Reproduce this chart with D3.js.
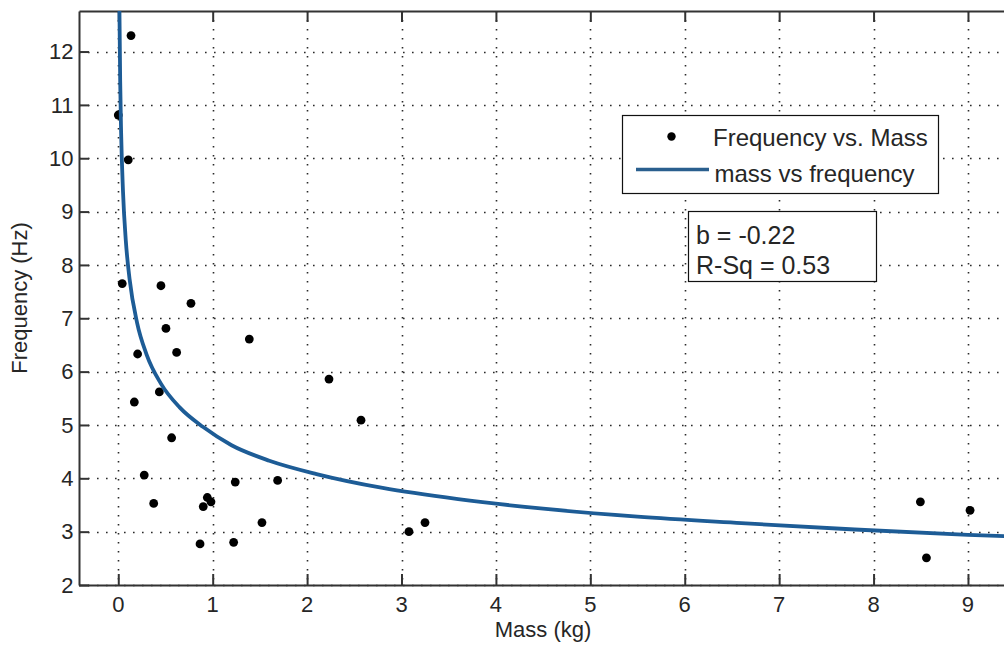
<!DOCTYPE html>
<html>
<head>
<meta charset="utf-8">
<script src="https://cdn.jsdelivr.net/npm/d3@7/dist/d3.min.js"></script>
<style>
  html, body { margin: 0; padding: 0; background: #fff; }
  svg { display: block; }
  text { font-family: "Liberation Sans", Arial, sans-serif; fill: #262626; }
</style>
</head>
<body>
<svg id="chart" width="1004" height="655"></svg>
<script>
// Measured samples: mass (kg) and resonant frequency (Hz)
const massKg = [0.135, 0.0, 0.106, 0.042, 0.452, 0.770, 0.505, 1.388, 0.205, 0.618,
                2.232, 0.435, 0.170, 2.571, 0.565, 0.275, 1.239, 1.688, 0.375, 0.943,
                0.982, 0.900, 1.522, 0.866, 1.222, 3.079, 3.249, 8.496, 9.022, 8.560];
const freqHz = [12.30, 10.81, 9.97, 7.65, 7.61, 7.28, 6.81, 6.61, 6.33, 6.36,
                5.86, 5.62, 5.43, 5.09, 4.76, 4.06, 3.93, 3.96, 3.53, 3.64,
                3.56, 3.47, 3.17, 2.77, 2.80, 3.00, 3.17, 3.56, 3.40, 2.51];

// Power-law fit curve, sampled along the mass axis
const fitMass = [0.012, 0.02, 0.03, 0.05, 0.08, 0.12, 0.2, 0.3, 0.45, 0.65,
                 0.9, 1.2, 1.6, 2.1, 2.8, 3.6, 4.5, 5.5, 6.6, 7.8, 9.0, 9.6];
const fitFreq = [12.83, 11.47, 10.49, 9.38, 8.45, 7.73, 6.91, 6.32, 5.78, 5.33,
                 4.96, 4.62, 4.33, 4.08, 3.82, 3.61, 3.43, 3.28, 3.16, 3.04, 2.94, 2.90];

const xTickValues = [0, 1, 2, 3, 4, 5, 6, 7, 8, 9];
const yTickValues = [2, 3, 4, 5, 6, 7, 8, 9, 10, 11, 12];
const xLabel = "Mass (kg)";
const yLabel = "Frequency (Hz)";
const legendLabels = ["Frequency vs. Mass", "mass vs frequency"];
const statLines = ["b = -0.22", "R-Sq = 0.53"];

const svg = d3.select("#chart");
const plot = { left: 79, right: 1008, top: 11, bottom: 585 };
const lineColor = "#1d5c96";

const x = d3.scaleLinear().domain([-0.416, 9.424]).range([plot.left, plot.right]);
const y = d3.scaleLinear().domain([2, 12.76]).range([plot.bottom, plot.top]);

svg.append("defs").append("clipPath").attr("id", "plotClip")
  .append("rect")
  .attr("x", plot.left).attr("y", plot.top)
  .attr("width", plot.right - plot.left).attr("height", plot.bottom - plot.top);

// Dotted grid
const grid = svg.append("g").attr("stroke", "#2a2a2a").attr("stroke-width", 1.6)
  .attr("stroke-dasharray", "1.6,7.4");
grid.selectAll("line.gx").data(xTickValues).join("line")
  .attr("class", "gx")
  .attr("x1", d => Math.round(x(d)) + 0.5).attr("x2", d => Math.round(x(d)) + 0.5)
  .attr("y1", plot.top).attr("y2", plot.bottom);
grid.selectAll("line.gy").data(yTickValues).join("line")
  .attr("class", "gy")
  .attr("y1", d => Math.round(y(d)) + 0.5).attr("y2", d => Math.round(y(d)) + 0.5)
  .attr("x1", plot.left).attr("x2", plot.right);

// Axes: inward ticks, labels drawn separately
const axisColor = "#333";
const bottomAxis = d3.axisBottom(x).tickValues(xTickValues).tickSizeInner(-11).tickSizeOuter(0).tickFormat("");
const topAxis = d3.axisTop(x).tickValues(xTickValues).tickSizeInner(-11).tickSizeOuter(0).tickFormat("");
const leftAxis = d3.axisLeft(y).tickValues(yTickValues).tickSizeInner(-10).tickSizeOuter(0).tickFormat("");

function styleAxis(g) {
  g.select(".domain").attr("stroke", axisColor).attr("stroke-width", 2);
  g.selectAll(".tick line").attr("stroke", axisColor).attr("stroke-width", 2);
}
svg.append("g").attr("transform", `translate(0,${plot.bottom})`).call(bottomAxis).call(styleAxis);
svg.append("g").attr("transform", `translate(0,${plot.top})`).call(topAxis).call(styleAxis);
svg.append("g").attr("transform", `translate(${plot.left},0)`).call(leftAxis).call(styleAxis);

// Tick labels
svg.append("g").selectAll("text").data(xTickValues).join("text")
  .attr("x", d => x(d)).attr("y", 612)
  .attr("text-anchor", "middle").attr("font-size", 22)
  .text(d => d);
svg.append("g").selectAll("text").data(yTickValues).join("text")
  .attr("x", 73.5).attr("y", d => y(d) + 7.8)
  .attr("text-anchor", "end").attr("font-size", 22)
  .text(d => d);

// Axis titles
svg.append("text").attr("x", 543).attr("y", 637)
  .attr("text-anchor", "middle").attr("font-size", 22).text(xLabel);
svg.append("text")
  .attr("transform", `translate(27,${(plot.top + plot.bottom) / 2}) rotate(-90)`)
  .attr("text-anchor", "middle").attr("font-size", 22).text(yLabel);

// Data points and fitted curve
const marks = svg.append("g").attr("clip-path", "url(#plotClip)");
marks.selectAll("circle").data(massKg.map((m, i) => [m, freqHz[i]])).join("circle")
  .attr("cx", d => x(d[0])).attr("cy", d => y(d[1])).attr("r", 4.4)
  .attr("fill", "#000");

const fitLine = d3.line().x(d => x(d[0])).y(d => y(d[1])).curve(d3.curveMonotoneX);
marks.append("path")
  .datum(fitMass.map((m, i) => [m, fitFreq[i]]))
  .attr("d", fitLine)
  .attr("fill", "none").attr("stroke", lineColor).attr("stroke-width", 3.8)
  .attr("stroke-linejoin", "round");

// Legend
const legend = svg.append("g");
legend.append("rect").attr("x", 622.5).attr("y", 115.5).attr("width", 316).attr("height", 78)
  .attr("fill", "#fff").attr("stroke", "#111").attr("stroke-width", 1.2);
legend.append("circle").attr("cx", 671.5).attr("cy", 136.5).attr("r", 4.2).attr("fill", "#000");
legend.append("line").attr("x1", 636).attr("x2", 709).attr("y1", 169.5).attr("y2", 169.5)
  .attr("stroke", "#2a5f8e").attr("stroke-width", 3.6);
legend.selectAll("text").data(legendLabels).join("text")
  .attr("x", (d, i) => i === 0 ? 713 : 714.5)
  .attr("y", (d, i) => i === 0 ? 146 : 181.5)
  .attr("font-size", 24).text(d => d);

// Fit statistics box
const stats = svg.append("g");
stats.append("rect").attr("x", 688.5).attr("y", 211.5).attr("width", 188).attr("height", 70)
  .attr("fill", "#fff").attr("stroke", "#111").attr("stroke-width", 1.2);
stats.selectAll("text").data(statLines).join("text")
  .attr("x", 696).attr("y", (d, i) => 243.5 + i * 30)
  .attr("font-size", 25).text(d => d);
</script>
</body>
</html>
